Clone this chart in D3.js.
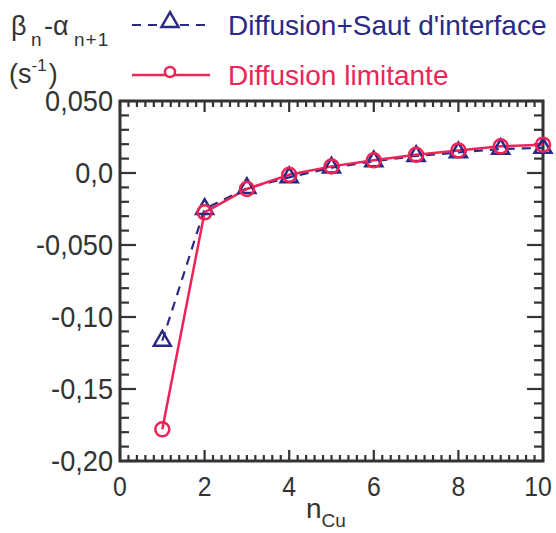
<!DOCTYPE html>
<html><head><meta charset="utf-8">
<script src="https://cdn.jsdelivr.net/npm/d3@7"></script>
<style>body{margin:0;background:#fff}svg{display:block}text{font-family:"Liberation Sans",Arial,sans-serif}</style>
</head><body>
<script>
const nValues = [1,2,3,4,5,6,7,8,9,10];
const sautValues = [-0.1165,-0.025,-0.0105,-0.003,0.0037,0.0081,0.0118,0.0143,0.0167,0.0174];
const limitValues = [-0.178,-0.0273,-0.0111,-0.0012,0.0046,0.0088,0.0127,0.0157,0.0185,0.0197];
const xTicks = [0,2,4,6,8,10];
const yTicks = [0.05,0,-0.05,-0.1,-0.15,-0.2];
const yTickLabels = ["0,050","0,0","-0,050","-0,10","-0,15","-0,20"];
const legendLabels = ["Diffusion+Saut d'interface","Diffusion limitante"];

const W=556,H=533;
const navy="#2a2a84", red="#ee2457", ink="#333333";
const m={l:120,r:543,t:101,b:461};
const svg=d3.select("body").append("svg").attr("width",W).attr("height",H);
const x=d3.scaleLinear().domain([0,10]).range([m.l,m.r]);
const y=d3.scaleLinear().domain([-0.2,0.05]).range([m.b,m.t]);

// ticks (inward, mirrored)
const g=svg.append("g").attr("stroke",ink).attr("stroke-width",2.2);
const xMinor=d3.range(0,10.001,0.2);
xMinor.forEach(v=>{
  const major=Math.abs(v/2-Math.round(v/2))<1e-6;
  const len=major?11:6;
  g.append("line").attr("x1",x(v)).attr("x2",x(v)).attr("y1",m.b).attr("y2",m.b-len);
  g.append("line").attr("x1",x(v)).attr("x2",x(v)).attr("y1",m.t).attr("y2",m.t+len);
});
const yMinor=d3.range(-0.2,0.0501,0.01);
yMinor.forEach(v=>{
  const major=Math.abs(v/0.05-Math.round(v/0.05))<1e-6;
  const len=major?16:9;
  g.append("line").attr("y1",y(v)).attr("y2",y(v)).attr("x1",m.l).attr("x2",m.l+len);
  g.append("line").attr("y1",y(v)).attr("y2",y(v)).attr("x1",m.r).attr("x2",m.r-len);
});
svg.append("rect").attr("x",m.l).attr("y",m.t).attr("width",m.r-m.l).attr("height",m.b-m.t)
  .attr("fill","none").attr("stroke",ink).attr("stroke-width",3);

// axes labels
const fs=28;
svg.append("g").selectAll("text").data(xTicks).join("text")
  .attr("transform",d=>`translate(${Math.min(x(d), W-18)},${m.b+35}) scale(0.92,1.05)`)
  .attr("text-anchor","middle")
  .attr("font-size",27).attr("fill",ink).text(d=>d);
svg.append("g").selectAll("text").data(yTicks).join("text")
  .attr("transform",d=>`translate(${m.l-7},${y(d)+10}) scale(0.97,1.05)`)
  .attr("text-anchor","end")
  .attr("font-size",fs).attr("fill",ink).text((d,i)=>yTickLabels[i]);

// x title
const xt=svg.append("text").attr("x",306).attr("y",518).attr("font-size",fs).attr("fill",ink);
xt.append("tspan").text("n");
xt.append("tspan").attr("dy",9).attr("font-size",19).text("Cu");

// y title
const yt=svg.append("text").attr("y",35).attr("font-size",27).attr("fill",ink);
yt.append("tspan").attr("x",11).text("β");
yt.append("tspan").attr("x",31).attr("dy",11).attr("font-size",19).text("n");
yt.append("tspan").attr("x",44).attr("dy",-11).text("-α");
yt.append("tspan").attr("x",74).attr("dy",11).attr("font-size",19).attr("letter-spacing",1).text("n+1");
const yt2=svg.append("text").attr("x",9).attr("y",83).attr("font-size",27).attr("fill",ink);
yt2.append("tspan").text("(s");
yt2.append("tspan").attr("dy",-12).attr("font-size",17).text("-1");
yt2.append("tspan").attr("dy",12).attr("dx",2).text(")");

// series
const line=d3.line().x((d,i)=>x(nValues[i])).y(d=>y(d));
svg.append("path").datum(sautValues).attr("d",line).attr("fill","none")
  .attr("stroke",navy).attr("stroke-width",2.2).attr("stroke-dasharray","9,7");
svg.append("path").datum(limitValues).attr("d",line).attr("fill","none")
  .attr("stroke",red).attr("stroke-width",2.5);
const tri=d3.symbol().type(d3.symbolTriangle).size(125);
svg.append("g").selectAll("path").data(sautValues).join("path")
  .attr("transform",(d,i)=>`translate(${x(nValues[i])},${y(d)})`)
  .attr("d",tri).attr("fill","none").attr("stroke",navy).attr("stroke-width",2.5);
svg.append("g").selectAll("circle").data(limitValues).join("circle")
  .attr("cx",(d,i)=>x(nValues[i])).attr("cy",d=>y(d)).attr("r",7)
  .attr("fill","none").attr("stroke",red).attr("stroke-width",2.5);

// legend
const lg=svg.append("g");
lg.append("line").attr("x1",132).attr("x2",210).attr("y1",25).attr("y2",25)
  .attr("stroke",navy).attr("stroke-width",2.2).attr("stroke-dasharray","9,7");
lg.append("path").attr("transform","translate(170,22)").attr("d",tri).attr("fill","#fff").attr("stroke",navy).attr("stroke-width",2.5);
lg.append("text").attr("x",228).attr("y",35).attr("font-size",fs).attr("fill",navy).text(legendLabels[0]);
lg.append("line").attr("x1",132).attr("x2",210).attr("y1",75).attr("y2",75)
  .attr("stroke",red).attr("stroke-width",2.5);
lg.append("circle").attr("cx",170).attr("cy",72).attr("r",5).attr("fill","#fff").attr("stroke",red).attr("stroke-width",2.5);
lg.append("text").attr("x",228).attr("y",85).attr("font-size",fs).attr("fill",red).text(legendLabels[1]);
</script>
</body></html>
